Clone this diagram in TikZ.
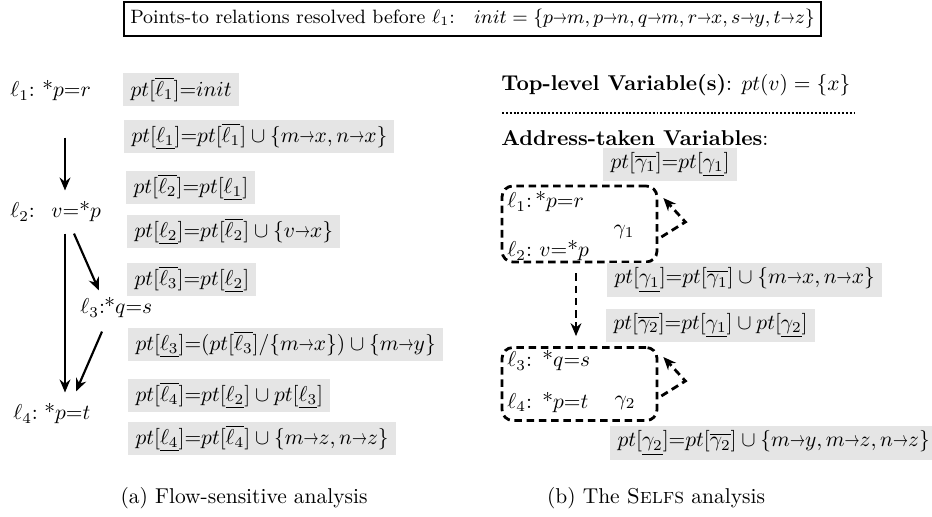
\documentclass[tikz,border=0pt]{standalone}
\usepackage{amsmath,amssymb}
\usetikzlibrary{arrows.meta}
\newcommand{\pto}{\mathord{\scalebox{0.7}[1]{$\rightarrow$}}}
\newcommand{\st}[2]{*$#1{=}#2$}
\begin{document}
\begin{tikzpicture}[x=0.466pt,y=-0.466pt,
  gbox/.style={fill=black!10, inner xsep=3.3pt, inner ysep=0pt, minimum height=15.4pt, anchor=west},
  stmt/.style={inner sep=0pt, anchor=base west},
  arr/.style={line width=1pt, -{Stealth[length=6pt,width=5pt]}},
  dbox/.style={draw, line width=1.3pt, dash pattern=on 3.5pt off 2.2pt, rounded corners=5pt, minimum width=72.2pt, inner sep=0pt},
  darr/.style={line width=1.3pt, dash pattern=on 3.5pt off 2.2pt, -{Stealth[length=6pt,width=5pt]}}]
\useasboundingbox (0,0) rectangle (932,517);
% top box
\node[draw, line width=0.7pt, inner xsep=3pt, minimum height=14.9pt, font=\small] (top) at (472.5,19)
  {Points-to relations resolved before $\ell_1$:\quad $init = \{p\pto m, p\pto n, q\pto m, r\pto x, s\pto y, t\pto z\}$};
% ---------------- left panel
\node[stmt] (l1) at (10,97) {$\ell_1$:};
\node[stmt] (s1) at (42,97) {\st{p}{r}};
\node[stmt] (l2) at (10,218) {$\ell_2$:};
\node[stmt] (s2) at (51,218) {$v{=}$*$p$};
\node[stmt] (l3) at (80,314) {$\ell_3$:};
\node[stmt] (s3) at (104,314) {\st{q}{s}};
\node[stmt] (l4) at (13,420) {$\ell_4$:};
\node[stmt] (s4) at (44,420) {\st{p}{t}};
\draw[arr] ([shift={(23,36)}]s1.south west) -- ([shift={(14,-11)}]s2.north west);
\draw[arr] ([shift={(14,11)}]s2.south west) -- ([shift={(21,-11)}]s4.north west);
\draw[arr] ([shift={(23,11)}]s2.south west) -- ([shift={(-5,-7)}]s3.north west);
\draw[arr] ([shift={(-2,13)}]s3.south west) -- ([shift={(32,-12)}]s4.north west);
\node[gbox] (a1) at (123,89.5) {$pt[\overline{\ell_1}]{=}init$};
\node[gbox] (a2) at (124,136.5) {$pt[\underline{\ell_1}]{=}pt[\overline{\ell_1}] \cup \{m\pto x, n\pto x\}$};
\node[gbox] (a3) at (126,187.5) {$pt[\overline{\ell_2}]{=}pt[\underline{\ell_1}]$};
\node[gbox] (a4) at (127,231.5) {$pt[\underline{\ell_2}]{=}pt[\overline{\ell_2}] \cup \{v\pto x\}$};
\node[gbox] (a5) at (127,279.5) {$pt[\overline{\ell_3}]{=}pt[\underline{\ell_2}]$};
\node[gbox] (a6) at (128,344.5) {$pt[\underline{\ell_3}]{=}(pt[\overline{\ell_3}]/\{m\pto x\}) \cup \{m\pto y\}$};
\node[gbox] (a7) at (128,395.5) {$pt[\overline{\ell_4}]{=}pt[\underline{\ell_2}] \cup pt[\underline{\ell_3}]$};
\node[gbox] (a8) at (128,438.5) {$pt[\underline{\ell_4}]{=}pt[\overline{\ell_4}] \cup \{m\pto z, n\pto z\}$};
\node (capa) at (244,498) {(a) Flow-sensitive analysis};
% ---------------- right panel
\node[anchor=west, inner sep=0pt] (tl) at (501,85) {\textbf{Top-level Variable(s)}: $pt(v) = \{x\}$};
\draw[line width=0.9pt, dash pattern=on 0.9pt off 0.9pt] (502,113) -- (855,113);
\node[anchor=west, inner sep=0pt] (at) at (501,138) {\textbf{Address-taken Variables}:};
\node[gbox] (b1) at (603,164.5) {$pt[\overline{\gamma_1}]{=}pt[\underline{\gamma_1}]$};
\node[dbox, minimum height=35.4pt] (g1) at (579.5,224) {};
\node[stmt] (m1) at (507,208) {$\ell_1$:};
\node[stmt] (t1) at (535,208) {\st{p}{r}};
\node[inner sep=0pt] (gl1) at (624,232) {$\gamma_1$};
\node[stmt] (m2) at (507,257) {$\ell_2$:};
\node[stmt] (t2) at (539,257) {$v{=}$*$p$};
\draw[darr] ([shift={(3,13)}]g1.east) -- ([shift={(27,-2)}]g1.east) -- ([shift={(5,-26)}]g1.east);
\node[gbox] (b2) at (607,280) {$pt[\underline{\gamma_1}]{=}pt[\overline{\gamma_1}] \cup \{m\pto x, n\pto x\}$};
\node[dbox, minimum height=34pt] (g2) at (579.5,384) {};
\draw[darr] ([shift={(-3.5,10)}]g1.south) -- ([shift={(-3.5,-10)}]g2.north);
\node[gbox] (b3) at (606,325.5) {$pt[\overline{\gamma_2}]{=}pt[\underline{\gamma_1}] \cup pt[\underline{\gamma_2}]$};
\node[stmt] (m3) at (507,367) {$\ell_3$:};
\node[stmt] (t3) at (542,367) {\st{q}{s}};
\node[stmt] (m4) at (507,408) {$\ell_4$:};
\node[stmt] (t4) at (542,408) {\st{p}{t}};
\node[inner sep=0pt] (gl2) at (625,403) {$\gamma_2$};
\draw[darr] ([shift={(3,12)}]g2.east) -- ([shift={(27,-3)}]g2.east) -- ([shift={(5,-27)}]g2.east);
\node[gbox] (b4) at (610,443) {$pt[\underline{\gamma_2}]{=}pt[\overline{\gamma_2}] \cup \{m\pto y, m\pto z, n\pto z\}$};
\node (capb) at (656,498) {(b) The \textsc{Selfs} analysis};
\end{tikzpicture}
\end{document}
